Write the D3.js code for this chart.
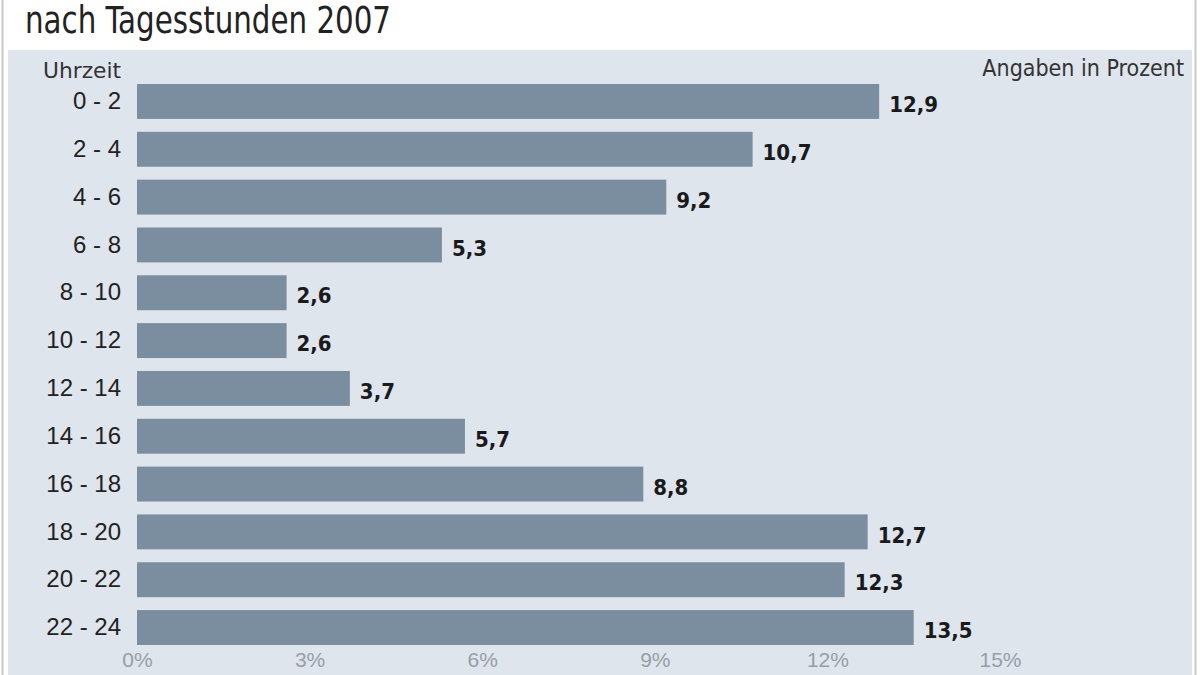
<!DOCTYPE html>
<html>
<head>
<meta charset="utf-8">
<script src="https://cdn.jsdelivr.net/npm/d3@7"></script>
<style>
  html, body { margin: 0; padding: 0; background: #fff; }
  svg { display: block; font-family: "DejaVu Sans", "Liberation Sans", sans-serif; font-stretch: condensed; }
</style>
</head>
<body>
<svg id="svg"></svg>
<script>
const width = 1200;
const height = 675;

// data
const hours = ["0 - 2", "2 - 4", "4 - 6", "6 - 8", "8 - 10", "10 - 12",
               "12 - 14", "14 - 16", "16 - 18", "18 - 20", "20 - 22", "22 - 24"];
const shares = [12.9, 10.7, 9.2, 5.3, 2.6, 2.6, 3.7, 5.7, 8.8, 12.7, 12.3, 13.5];
const tickValues = [0, 3, 6, 9, 12, 15];

const margin = { top: 84, right: 30, bottom: 30, left: 137 };

let svg = d3.select("#svg")
    .attr("width", width)
    .attr("height", height)
    .attr("viewBox", [0, 0, width, height]);

// frame lines and panel
svg.append("rect")
    .attr("x", 8).attr("y", 50)
    .attr("width", 1184).attr("height", height - 50)
    .attr("fill", "#dfe5ec");
svg.append("line")
    .attr("x1", 2.5).attr("x2", 2.5).attr("y1", 0).attr("y2", height)
    .attr("stroke", "#c9c9c9").attr("stroke-width", 2);
svg.append("line")
    .attr("x1", 1195.5).attr("x2", 1195.5).attr("y1", 0).attr("y2", height)
    .attr("stroke", "#c9c9c9").attr("stroke-width", 2);

// title (cut at the top in the original)
svg.append("text")
    .text("nach Tagesstunden 2007")
    .attr("x", 25)
    .attr("y", 33)
    .attr("font-size", "37px")
    .attr("textLength", 366)
    .attr("lengthAdjust", "spacingAndGlyphs")
    .attr("fill", "#222");

let xScale = d3.scaleLinear()
    .domain([0, 15])
    .range([margin.left, 1000]);

let yScale = d3.scaleBand()
    .domain(hours)
    .range([margin.top, 645])
    .paddingInner(0.27)
    .paddingOuter(0);

svg.append("g")
    .attr("fill", "#7a8ea0")
    .selectAll(".bar")
    .data(shares)
    .enter()
    .append("rect")
        .attr("class", "bar")
        .attr("x", xScale(0))
        .attr("y", (d, i) => yScale(hours[i]))
        .attr("width", d => xScale(d) - xScale(0))
        .attr("height", yScale.bandwidth());

// value labels
svg.append("g")
    .selectAll(".value")
    .data(shares)
    .enter()
    .append("text")
        .attr("class", "value")
        .text(d => String(d).replace(".", ","))
        .attr("x", d => xScale(d) + 10)
        .attr("y", (d, i) => yScale(hours[i]) + yScale.bandwidth() / 2 + 3)
        .attr("dy", "0.35em")
        .attr("font-size", "22px")
        .attr("font-weight", "bold")
        .attr("fill", "#1a1a1a");

// category axis
svg.append("g")
    .attr("transform", `translate(${margin.left - 16}, 0)`)
    .call(d3.axisLeft(yScale).tickSize(0).tickPadding(0))
    .call(g => g.select(".domain").remove())
    .selectAll("text")
    .attr("font-family", null)
    .attr("font-size", "24px")
    .attr("fill", "#222");

svg.append("text")
    .text("Uhrzeit")
    .attr("x", 121)
    .attr("y", 78)
    .attr("text-anchor", "end")
    .attr("font-size", "22px")
    .attr("textLength", 78)
    .attr("lengthAdjust", "spacingAndGlyphs")
    .attr("fill", "#333");

svg.append("text")
    .text("Angaben in Prozent")
    .attr("x", 1184)
    .attr("y", 76)
    .attr("text-anchor", "end")
    .attr("font-size", "23px")
    .attr("fill", "#333");

// percent axis
svg.append("g")
    .attr("transform", `translate(0, 667)`)
    .call(d3.axisBottom(xScale).tickValues(tickValues).tickSize(0).tickPadding(0).tickFormat(d => d + "%"))
    .call(g => g.select(".domain").remove())
    .selectAll("text")
    .attr("font-family", null)
    .attr("font-size", "21px")
    .attr("dy", "0")
    .attr("fill", "#989ea6");
</script>
</body>
</html>
